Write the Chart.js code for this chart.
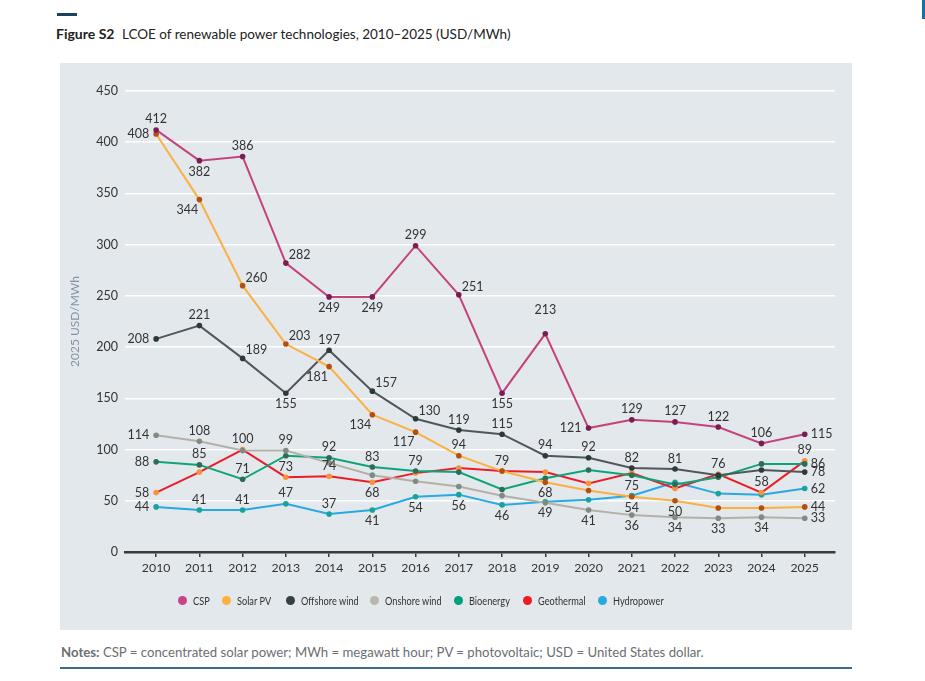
<!DOCTYPE html>
<html>
<head>
<meta charset="utf-8">
<script src="https://cdn.jsdelivr.net/npm/chart.js@4.4.0/dist/chart.umd.min.js"></script>
<style>
  body { margin: 0; background: #fff; font-family: Lato, "Open Sans", sans-serif; }
  #page { position: relative; width: 925px; height: 681px; overflow: hidden; }
  #topbar { position: absolute; left: 57px; top: 13px; width: 20px; height: 3px; background: #1d3f60; }
  #sidebar { position: absolute; left: 922px; top: 0; width: 3px; height: 19px; background: #1a6fa8; }
  #title { position: absolute; left: 56px; top: 25px; font-size: 13.5px; color: #222; white-space: nowrap; }
  #title b { font-weight: 700; font-size: 14px; margin-right: 4px; }
  #panel { position: absolute; left: 60px; top: 63px; width: 792px; height: 567px; background: #e3e8ec; }
  #legend { position: absolute; left: 0; top: 592px; width: 925px; height: 16px; font-size: 11.5px; color: #333; }
  .item { position: absolute; top: 0; display: flex; align-items: center; height: 16px; white-space: nowrap; }
  .dot { width: 9px; height: 9px; border-radius: 50%; margin-right: 6px; flex: none; }
  .txt { display: inline-block; transform: scaleX(0.8); transform-origin: left center; }
  #notes { position: absolute; left: 61px; top: 644px; font-size: 13.2px; color: #6d6e71; white-space: nowrap; }
  #rule { position: absolute; left: 60px; top: 667px; width: 792px; height: 1.5px; background: #3f6a8c; }
</style>
</head>
<body>
<div id="page">
  <div id="topbar"></div>
  <div id="sidebar"></div>
  <div id="title"><b>Figure S2</b> LCOE of renewable power technologies, 2010–2025 (USD/MWh)</div>
  <div id="panel"><canvas id="chart" width="792" height="567"></canvas></div>
  <div id="legend"></div>
  <div id="notes"><b>Notes:</b> CSP = concentrated solar power; MWh = megawatt hour; PV = photovoltaic; USD = United States dollar.</div>
  <div id="rule"></div>
</div>
<script>
// years on the x axis
const years = [2010, 2011, 2012, 2013, 2014, 2015, 2016, 2017, 2018, 2019, 2020, 2021, 2022, 2023, 2024, 2025];

// LCOE values, 2025 USD/MWh
const csp        = [412, 382, 386, 282, 249, 249, 299, 251, 155, 213, 121, 129, 127, 122, 106, 115];
const solarPV    = [408, 344, 260, 203, 181, 134, 117, 94, 79, 68, 60, 54, 50, 43, 43, 44];
const offshore   = [208, 221, 189, 155, 197, 157, 130, 119, 115, 94, 92, 82, 81, 75, 80, 78];
const onshore    = [114, 108, 99, 99, 87, 75, 69, 64, 55, 48, 41, 36, 34, 33, 34, 33];
const bioenergy  = [88, 85, 71, 94, 92, 83, 79, 78, 61, 72, 80, 75, 66, 73, 86, 86];
const geothermal = [58, 78, 100, 73, 74, 68, 77, 82, 79, 78, 67, 77, 62, 76, 58, 89];
const hydro      = [44, 41, 41, 47, 37, 41, 54, 56, 46, 49, 51, 55, 68, 57, 56, 62];

const yTicks = [0, 50, 100, 150, 200, 250, 300, 350, 400, 450];

// where each value label sits relative to its point (null = no label)
const cspPos   = ['t', 'b', 't', 'tr', 'b', 'b', 't', 'tr', 'b', 'tt', 'l', 't', 't', 't', 't', 'r'];
const solarPos = ['l', 'bl', 'tr', 'tr', 'bl', 'bl', 'bl', 't', 't', 'b', null, 'b', 'b', null, null, 'r'];
const offPos   = ['l', 't', 'tr', 'b', 't', 'tr', 'tr', 't', 't', 't', 't', 't', 't', null, null, 'r'];
const onPos    = ['l', 't', null, 't', null, null, null, null, null, null, 'b', 'b', 'b', 'b', 'b', 'r'];
const bioPos   = ['l', 't', 't', null, 't', 't', 't', null, null, null, null, 'b', null, null, null, 'r'];
const geoPos   = ['l', null, 't', 't', 't', 'b', null, null, null, null, null, null, null, 't', 't', 't'];
const hydroPos = ['l', 't', 't', 't', 't', 'b', 'b', 'b', 'b', 'b', null, null, null, null, null, 'r'];

const series = [
    { name: 'CSP',           data: csp,        pos: cspPos,   line: '#c4437f', dot: '#7a1d51', key: '#c8438a' },
    { name: 'Solar PV',      data: solarPV,    pos: solarPos, line: '#fbb03f', dot: '#b34f0f', key: '#fbb040' },
    { name: 'Offshore wind', data: offshore,   pos: offPos,   line: '#50575c', dot: '#2d3a3c', key: '#353f44' },
    { name: 'Onshore wind',  data: onshore,    pos: onPos,    line: '#b3b1a6', dot: '#7f8b86', key: '#b9b6aa' },
    { name: 'Bioenergy',     data: bioenergy,  pos: bioPos,   line: '#0ea479', dot: '#2e6b58', key: '#00a07a' },
    { name: 'Geothermal',    data: geothermal, pos: geoPos,   line: '#ec1c26', dot: '#f7923a', key: '#ed1c24' },
    { name: 'Hydropower',    data: hydro,      pos: hydroPos, line: '#27a9e1', dot: '#17a39a', key: '#27a8e0' }
];

// html legend, one item per series (left edge of each dot)
const legendLeft = [178, 222, 286, 370, 454, 523, 598];
const legend = document.getElementById('legend');
series.forEach((s, i) => {
    const item = document.createElement('div');
    item.className = 'item';
    item.style.left = legendLeft[i] + 'px';
    item.innerHTML = `<span class="dot" style="background:${s.key}"></span><span class="txt">${s.name}</span>`;
    legend.appendChild(item);
});

// value labels next to the points
const pointLabels = {
    id: 'pointLabels',
    afterDatasetsDraw(chart) {
        const ctx = chart.ctx;
        ctx.save();
        ctx.font = '12.5px Lato';
        ctx.fillStyle = '#333';
        ctx.textBaseline = 'middle';
        chart.data.datasets.forEach((ds, i) => {
            const meta = chart.getDatasetMeta(i);
            ds.labelPos.forEach((pos, j) => {
                if (!pos) return;
                const p = meta.data[j];
                let dx = 0, dy = 0, align = 'center';
                if (pos === 't') dy = -10.5;
                if (pos === 'tt') dy = -24;
                if (pos === 'b') dy = 11;
                if (pos === 'l') { dx = -7; align = 'right'; }
                if (pos === 'r') { dx = 6; align = 'left'; }
                if (pos === 'tr') { dx = 3; dy = -8; align = 'left'; }
                if (pos === 'bl') { dx = -1; dy = 10; align = 'right'; }
                ctx.textAlign = align;
                ctx.fillText(ds.data[j].y, p.x + dx, p.y + dy);
            });
        });
        // y axis title
        const a = chart.chartArea;
        ctx.translate(15, (a.top + a.bottom) / 2);
        ctx.rotate(-Math.PI / 2);
        ctx.textAlign = 'center';
        ctx.font = '12px Lato';
        ctx.fillStyle = '#8393a4';
        ctx.fillText('2025 USD/MWh', 0, 0);
        ctx.restore();
    }
};

new Chart(document.getElementById('chart'), {
    type: 'line',
    data: {
        datasets: series.map(s => ({
            label: s.name,
            data: s.data.map((v, i) => ({ x: years[i], y: v })),
            labelPos: s.pos,
            borderColor: s.line,
            backgroundColor: s.dot,
            pointBackgroundColor: s.dot,
            pointBorderWidth: 0,
            pointRadius: 2.8,
            borderWidth: 2,
            tension: 0
        }))
    },
    options: {
        responsive: false,
        animation: false,
        layout: { padding: { top: 28, right: 17, left: 0, bottom: 0 } },
        plugins: { legend: { display: false }, tooltip: { enabled: false } },
        scales: {
            x: {
                type: 'linear',
                min: 2009.28,
                max: 2025.7,
                afterBuildTicks: axis => { axis.ticks = years.map(v => ({ value: v })); },
                afterFit: axis => { axis.height = 78; },
                grid: { drawOnChartArea: false, drawTicks: true, tickLength: 5, color: '#3a3a3a', lineWidth: 1.5 },
                border: { display: true, color: '#3a3a3a', width: 2.5, z: 1 },
                ticks: { color: '#333', font: { family: 'Lato', size: 12.3 }, padding: 4, callback: v => String(v), maxRotation: 0 }
            },
            y: {
                min: 0,
                max: 450,
                afterBuildTicks: axis => { axis.ticks = yTicks.map(v => ({ value: v })); },
                afterFit: axis => { axis.width = 65; },
                grid: { color: '#ffffff', lineWidth: 1.6, drawTicks: false },
                border: { display: false },
                ticks: { color: '#333', font: { family: 'Lato', size: 12.5 }, padding: 7 }
            }
        }
    },
    plugins: [pointLabels]
});
</script>
</body>
</html>
